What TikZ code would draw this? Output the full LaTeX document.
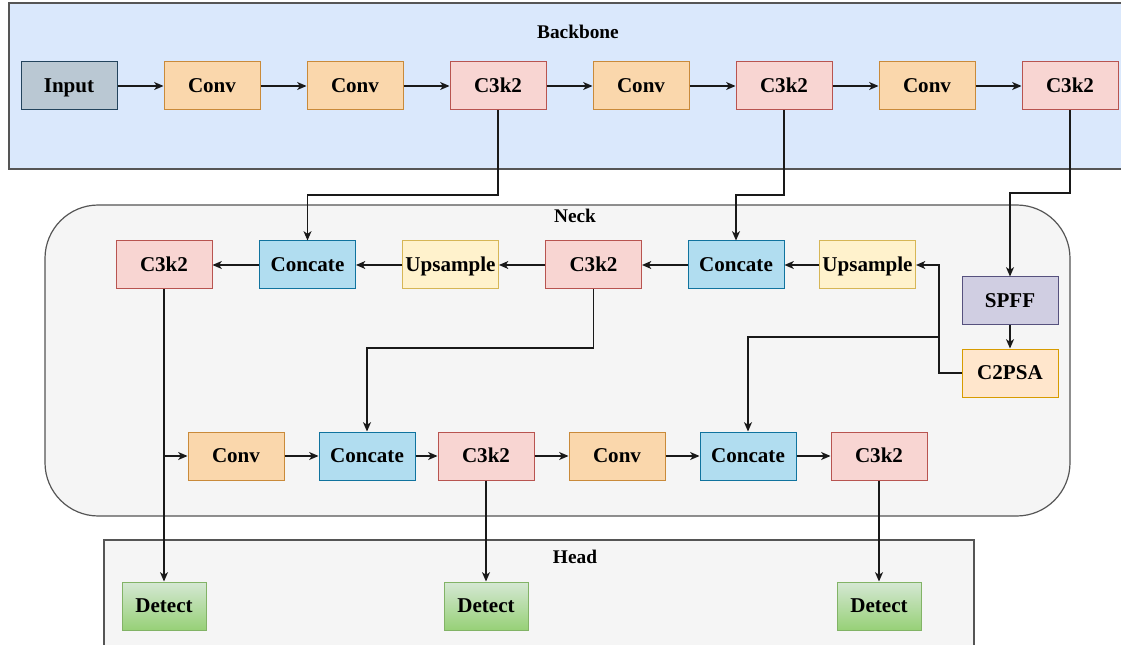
\documentclass[tikz,border=0pt]{standalone}
\usepackage{fontspec}
\setmainfont{Liberation Serif}
\usetikzlibrary{arrows.meta}
\definecolor{bbfill}{HTML}{DAE8FC}
\definecolor{grpfill}{HTML}{F5F5F5}
\definecolor{grpdraw}{HTML}{555555}
\definecolor{infill}{HTML}{BAC8D3}\definecolor{indraw}{HTML}{23445D}
\definecolor{cvfill}{HTML}{FAD7AC}\definecolor{cvdraw}{HTML}{C98A3A}
\definecolor{ckfill}{HTML}{F8D5D2}\definecolor{ckdraw}{HTML}{B85450}
\definecolor{ccfill}{HTML}{B1DDF0}\definecolor{ccdraw}{HTML}{10739E}
\definecolor{upfill}{HTML}{FFF2CC}\definecolor{updraw}{HTML}{D6B656}
\definecolor{spfill}{HTML}{D0CEE2}\definecolor{spdraw}{HTML}{56517E}
\definecolor{c2fill}{HTML}{FFE6CC}\definecolor{c2draw}{HTML}{D79B00}
\definecolor{dttop}{HTML}{D5E8D4}\definecolor{dtbot}{HTML}{97D077}\definecolor{dtdraw}{HTML}{82B366}
\tikzset{
  blk/.style={rectangle, minimum width=72pt, minimum height=36pt, inner sep=0pt, text height=10.4pt, text depth=0pt, line width=0.75pt, font=\fontsize{15.8pt}{18pt}\selectfont\bfseries},
  inp/.style={blk, fill=infill, draw=indraw},
  cv/.style={blk, fill=cvfill, draw=cvdraw},
  ck/.style={blk, fill=ckfill, draw=ckdraw},
  cc/.style={blk, fill=ccfill, draw=ccdraw},
  up/.style={blk, fill=upfill, draw=updraw},
  sp/.style={blk, fill=spfill, draw=spdraw},
  c2/.style={blk, fill=c2fill, draw=c2draw},
  dt/.style={blk, minimum width=63pt, top color=dttop, bottom color=dtbot, draw=dtdraw},
  grp/.style={line width=0.9pt, draw=grpdraw},
  ttl/.style={font=\fontsize{14.5pt}{16pt}\selectfont\bfseries},
  arr/.style={line width=0.9pt, draw=black!90, -{Stealth[length=7pt,width=6pt,inset=2pt]}},
  ln/.style={line width=0.9pt, draw=black!90}
}
\begin{document}
\begin{tikzpicture}[x=0.75pt,y=-0.75pt]
\useasboundingbox (0,0) rectangle (1121,645);
\clip (0,0) rectangle (1121,645);
% groups
\draw[grp, fill=bbfill] (9,3) rectangle (1130,169);
\node[ttl] (tbb) at (578,32) {Backbone};
\draw[grp, fill=grpfill, rounded corners=40] (45,205) rectangle (1070,516);
\node[ttl] (tnk) at (575,216) {Neck};
\draw[grp, fill=grpfill] (104,540) rectangle (974,660);
\node[ttl] (thd) at (575,557) {Head};
% backbone
\node[inp] (in) at (69,86) {Input};
\node[cv] (b1) at (212,86) {Conv};
\node[cv] (b2) at (355,86) {Conv};
\node[ck] (b3) at (498,86) {C3k2};
\node[cv] (b4) at (641,86) {Conv};
\node[ck] (b5) at (784,86) {C3k2};
\node[cv] (b6) at (927,86) {Conv};
\node[ck] (b7) at (1070,86) {C3k2};
% neck top row
\node[ck] (n1) at (164,265) {C3k2};
\node[cc] (n2) at (307.5,265) {Concate};
\node[up] (n3) at (450.5,265) {Upsample};
\node[ck] (n4) at (593.5,265) {C3k2};
\node[cc] (n5) at (736,265) {Concate};
\node[up] (n6) at (867.5,265) {Upsample};
\node[sp] (sp) at (1010,301) {SPFF};
\node[c2] (c2) at (1010,373) {C2PSA};
% neck bottom row
\node[cv] (m1) at (236,456) {Conv};
\node[cc] (m2) at (367,456) {Concate};
\node[ck] (m3) at (486,456) {C3k2};
\node[cv] (m4) at (617,456) {Conv};
\node[cc] (m5) at (748,456) {Concate};
\node[ck] (m6) at (879,456) {C3k2};
% head
\node[dt] (d1) at (164,606) {Detect};
\node[dt] (d2) at (486,606) {Detect};
\node[dt] (d3) at (879,606) {Detect};
% backbone chain
\draw[arr] (in) -- (b1);
\draw[arr] (b1) -- (b2);
\draw[arr] (b2) -- (b3);
\draw[arr] (b3) -- (b4);
\draw[arr] (b4) -- (b5);
\draw[arr] (b5) -- (b6);
\draw[arr] (b6) -- (b7);
% backbone to neck
\draw[arr] (b3.south) |- (307.5,195) -- (n2.north);
\draw[arr] (b5.south) |- (736,195) -- (n5.north);
\draw[arr] (b7.south) |- (1010,193) -- (sp.north);
\draw[arr] (sp) -- (c2);
% neck top row
\draw[arr] (c2.west) -| (939,265) -- (n6.east);
\draw[arr] (n6) -- (n5);
\draw[arr] (n5) -- (n4);
\draw[arr] (n4) -- (n3);
\draw[arr] (n3) -- (n2);
\draw[arr] (n2) -- (n1);
\draw[arr] (n4.south) |- (367,348) -- (m2.north);
\draw[arr] (939,337) -| (m5.north);
% bottom row
\coordinate (br) at (164,456);
\draw[arr] (n1.south) -- (d1.north);
\draw[arr] (br) -- (m1.west);
\draw[arr] (m1) -- (m2);
\draw[arr] (m2) -- (m3);
\draw[arr] (m3) -- (m4);
\draw[arr] (m4) -- (m5);
\draw[arr] (m5) -- (m6);
\draw[arr] (m3.south) -- (d2.north);
\draw[arr] (m6.south) -- (d3.north);
\end{tikzpicture}
\end{document}
